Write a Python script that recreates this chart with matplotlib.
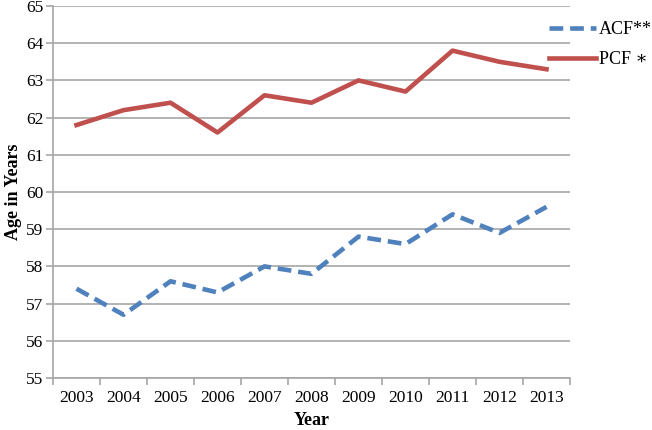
import numpy as np
import matplotlib.pyplot as plt

years = ['2003', '2004', '2005', '2006', '2007', '2008', '2009', '2010', '2011', '2012', '2013']
acf = [57.4, 56.7, 57.6, 57.3, 58.0, 57.8, 58.8, 58.6, 59.4, 58.9, 59.6]
pcf = [61.8, 62.2, 62.4, 61.6, 62.6, 62.4, 63.0, 62.7, 63.8, 63.5, 63.3]

plt.rcParams['font.family'] = ['Liberation Serif', 'DejaVu Serif']

fig = plt.figure(figsize=(6.52, 4.30), dpi=100)
ax = fig.add_axes([53/652, 1 - 378/430, (570 - 53)/652, (378 - 6)/430])

x = np.arange(len(years))
ax.plot(x, acf, color='#4f81bd', lw=3.3, dashes=(3.0, 1.5), label='ACF**')
ax.plot(x, pcf, color='#c0504d', lw=3.3, label='PCF \u2217')

ax.set_xlim(-0.5, len(years) - 0.5)
ax.set_ylim(55, 65)
ax.set_yticks(range(55, 66))
ax.set_xticks(x)
ax.set_xticklabels(years)
ax.set_xticks(np.arange(-0.5, len(years)), minor=True)
ax.tick_params(axis='x', which='major', length=0, pad=9, labelsize=12.5)
ax.tick_params(axis='x', which='minor', length=5, width=1.2, color='#a6a6a6', direction='out')
ax.tick_params(axis='y', length=5, width=1.2, color='#a6a6a6', pad=2, labelsize=12.5)

ax.grid(axis='y', color='#a6a6a6', lw=1.2)
ax.set_axisbelow(True)
for s in ['top', 'right']:
    ax.spines[s].set_visible(False)
ax.spines['left'].set_color('#a6a6a6')
ax.spines['bottom'].set_color('#a6a6a6')
ax.spines['left'].set_linewidth(1.2)
ax.spines['bottom'].set_linewidth(1.2)

ax.set_xlabel('Year', fontweight='bold', fontsize=13)
ax.set_ylabel('Age in Years', fontweight='bold', fontsize=13, labelpad=3)

fig.legend(loc='upper left', bbox_to_anchor=(549/652, 1 - 21/430), frameon=False, fontsize=13,
           handlelength=2.6, handletextpad=0.15, labelspacing=0.72, borderpad=0, borderaxespad=0)

fig.savefig('out.png', dpi=100)
